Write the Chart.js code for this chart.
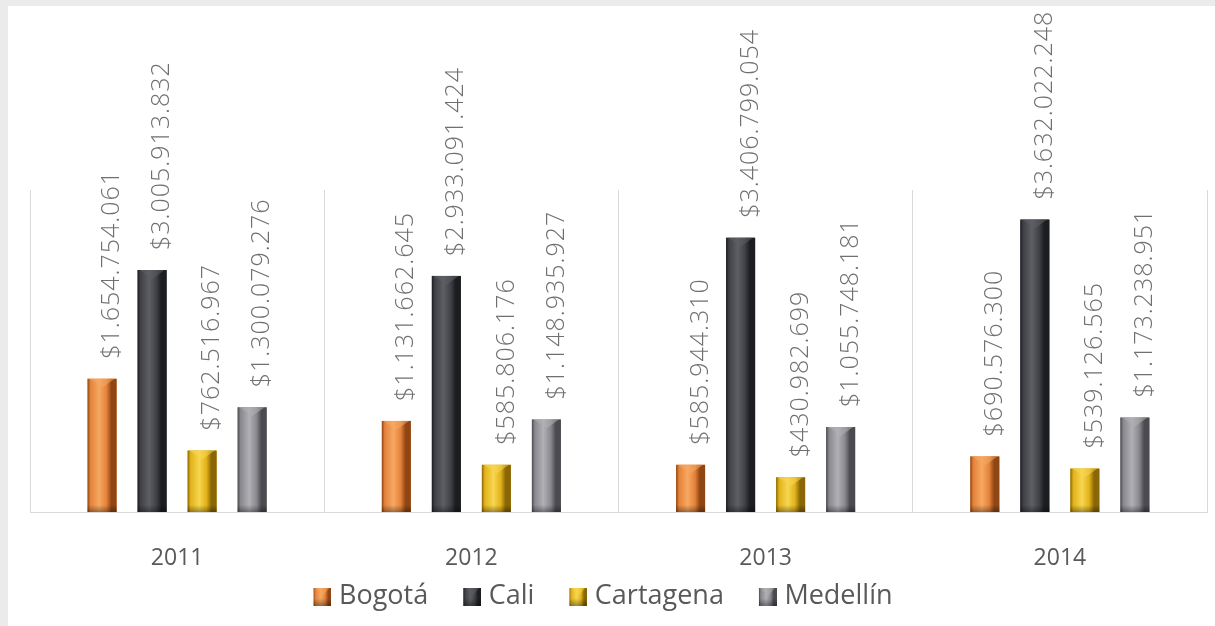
<!DOCTYPE html>
<html><head><meta charset="utf-8">
<script src="https://cdn.jsdelivr.net/npm/chart.js@4"></script>
<style>
html,body{margin:0;padding:0;background:#ebebeb;width:1215px;height:626px;overflow:hidden}
#wrap{position:absolute;left:8px;top:6px;width:1207px;height:620px;background:#fff}
</style></head><body><div id="wrap"><canvas id="c"></canvas></div>
<script>
const categories = ['2011', '2012', '2013', '2014'];
const seriesNames = ['Bogotá', 'Cali', 'Cartagena', 'Medellín'];
const bogota = [1654754061, 1131662645, 585944310, 690576300];
const cali = [3005913832, 2933091424, 3406799054, 3632022248];
const cartagena = [762516967, 585806176, 430982699, 539126565];
const medellin = [1300079276, 1148935927, 1055748181, 1173238951];
const yMin = 0;
const yMax = 4000000000;

const palette = [
  {base:'#e4823b', dark:'#8f4614', light:'#f6a862'},
  {base:'#3f4146', dark:'#1c1d20', light:'#5d5f65'},
  {base:'#e1b21a', dark:'#8a6606', light:'#f7d650'},
  {base:'#88888e', dark:'#4a4a50', light:'#b0b0b5'}
];
const seriesValues = [bogota, cali, cartagena, medellin];

function fmt(n){ return '$' + String(n).replace(/\B(?=(\d{3})+(?!\d))/g, '.'); }

function bevelFill(ctx, x0, x1, top, bottom, p){
  const w = x1 - x0;
  const g = ctx.createLinearGradient(x0, 0, x1, 0);
  g.addColorStop(0, p.dark);
  g.addColorStop(0.1, p.base);
  g.addColorStop(0.4, p.light);
  g.addColorStop(0.65, p.base);
  g.addColorStop(0.82, p.dark);
  g.addColorStop(1, p.dark);
  ctx.fillStyle = g;
  ctx.fillRect(x0, top, w, bottom - top);
  const ch = Math.min(9, (bottom - top) / 2);
  ctx.globalAlpha = 0.55;
  ctx.fillStyle = p.light;
  ctx.beginPath();
  ctx.moveTo(x0 + 2, top);
  ctx.lineTo(x1 - 2, top);
  ctx.lineTo((x0 + x1) / 2, top + ch);
  ctx.closePath();
  ctx.fill();
  ctx.globalAlpha = 1;
  const gb = ctx.createLinearGradient(0, bottom - 7, 0, bottom);
  gb.addColorStop(0, 'rgba(0,0,0,0)');
  gb.addColorStop(1, 'rgba(0,0,0,0.35)');
  ctx.fillStyle = gb;
  ctx.fillRect(x0, bottom - 7, w, 7);
}

// legend marker: 49px wide transparent canvas with the 18px square at its right end
function markerCanvas(p){
  const c = document.createElement('canvas');
  c.width = 49; c.height = 18;
  const x = c.getContext('2d');
  bevelFill(x, 31, 49, 0, 18, p);
  return c;
}

const barDecor = {
  id: 'barDecor',
  afterLayout(chart){
    const lg = chart.legend;
    if (lg) { lg.left -= 28; lg.right -= 28; }
  },
  afterDatasetsDraw(chart){
    const ctx = chart.ctx;
    ctx.save();
    chart.data.datasets.forEach((ds, i) => {
      const meta = chart.getDatasetMeta(i);
      meta.data.forEach(el => {
        const {x, y, base, width} = el.getProps(['x','y','base','width'], true);
        bevelFill(ctx, x - width/2, x + width/2, y, base, palette[i]);
      });
    });
    ctx.font = '300 25px "Open Sans"';
    ctx.fillStyle = '#707070';
    ctx.textAlign = 'left';
    ctx.textBaseline = 'middle';
    if ('letterSpacing' in ctx) ctx.letterSpacing = '1px';
    chart.data.datasets.forEach((ds, i) => {
      const meta = chart.getDatasetMeta(i);
      meta.data.forEach((el, j) => {
        const {x, y} = el.getProps(['x','y'], true);
        ctx.save();
        ctx.translate(x + 10, y - 20);
        ctx.rotate(-Math.PI / 2);
        ctx.fillText(fmt(ds.data[j]), 0, 0);
        ctx.restore();
      });
    });
    ctx.restore();
  }
};

const markers = palette.map(markerCanvas);

new Chart(document.getElementById('c'), {
  type: 'bar',
  data: {
    labels: categories,
    datasets: seriesNames.map((name, i) => ({
      label: name,
      data: seriesValues[i],
      backgroundColor: palette[i].base,
      borderWidth: 0,
      categoryPercentage: 0.68,
      barPercentage: 0.58,
      pointStyle: markers[i]
    }))
  },
  options: {
    responsive: true,
    maintainAspectRatio: false,
    animation: false,
    layout: {padding: {left: 22, right: 8, top: 184, bottom: 6}},
    scales: {
      x: {
        grid: {display: true, offset: true, color: '#d9d9d9', drawTicks: false, lineWidth: 1},
        border: {display: true, color: '#d9d9d9'},
        ticks: {color: '#595959', font: {family: '"Open Sans"', size: 23}, padding: 33},
        afterFit: s => { s.height = 61; }
      },
      y: {display: false, min: yMin, max: yMax}
    },
    plugins: {
      legend: {
        position: 'bottom',
        labels: {
          usePointStyle: true,
          boxHeight: 18,
          pointStyleWidth: 37,
          padding: 10,
          color: '#595959',
          font: {family: '"Open Sans"', size: 27}
        }
      },
      tooltip: {enabled: false}
    }
  },
  plugins: [barDecor]
});
</script></body></html>
